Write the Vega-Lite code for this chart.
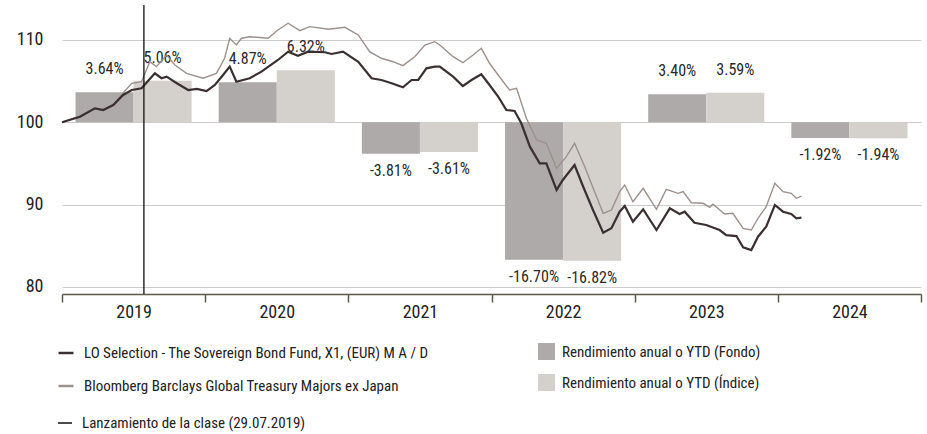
{
  "$schema": "https://vega.github.io/schema/vega-lite/v6.json",
  "width": 859,
  "height": 289,
  "autosize": "none",
  "padding": {"left": 62, "top": 5, "right": 6, "bottom": 140},
  "config": {
    "view": {"stroke": null},
    "font": "Liberation Sans Narrow, Roboto Condensed, DejaVu Sans Condensed, Arial Narrow, sans-serif",
    "axisY": {"domain": false, "ticks": false, "grid": true, "gridColor": "#cccccc", "gridWidth": 1.2, "labelPadding": 19, "labelFontSize": 18, "labelColor": "#222222", "title": null},
    "legend": {"labelFontSize": 15, "labelColor": "#222222", "title": null, "orient": "none", "labelLimit": 0}
  },
  "datasets": {
    "bars": [
      {"year": "2019", "series": "Rendimiento anual o YTD (Fondo)", "ret": 3.64, "end": 103.64, "label": "3.64%"},
      {"year": "2019", "series": "Rendimiento anual o YTD (Índice)", "ret": 5.06, "end": 105.06, "label": "5.06%"},
      {"year": "2020", "series": "Rendimiento anual o YTD (Fondo)", "ret": 4.87, "end": 104.87, "label": "4.87%"},
      {"year": "2020", "series": "Rendimiento anual o YTD (Índice)", "ret": 6.32, "end": 106.32, "label": "6.32%"},
      {"year": "2021", "series": "Rendimiento anual o YTD (Fondo)", "ret": -3.81, "end": 96.19, "label": "-3.81%"},
      {"year": "2021", "series": "Rendimiento anual o YTD (Índice)", "ret": -3.61, "end": 96.39, "label": "-3.61%"},
      {"year": "2022", "series": "Rendimiento anual o YTD (Fondo)", "ret": -16.70, "end": 83.30, "label": "-16.70%"},
      {"year": "2022", "series": "Rendimiento anual o YTD (Índice)", "ret": -16.82, "end": 83.18, "label": "-16.82%"},
      {"year": "2023", "series": "Rendimiento anual o YTD (Fondo)", "ret": 3.40, "end": 103.40, "label": "3.40%"},
      {"year": "2023", "series": "Rendimiento anual o YTD (Índice)", "ret": 3.59, "end": 103.59, "label": "3.59%"},
      {"year": "2024", "series": "Rendimiento anual o YTD (Fondo)", "ret": -1.92, "end": 98.08, "label": "-1.92%"},
      {"year": "2024", "series": "Rendimiento anual o YTD (Índice)", "ret": -1.94, "end": 98.06, "label": "-1.94%"}
    ],
    "launch": [{"date": "2019-07-29", "event": "Lanzamiento de la clase (29.07.2019)"}],
    "fund": [
      {"date": "2019-01-01", "value": 100.0}, {"date": "2019-02-16", "value": 100.68}, {"date": "2019-03-26", "value": 101.70},
      {"date": "2019-04-16", "value": 101.49}, {"date": "2019-05-12", "value": 102.10}, {"date": "2019-06-06", "value": 103.32},
      {"date": "2019-06-28", "value": 103.92}, {"date": "2019-07-23", "value": 104.13}, {"date": "2019-08-26", "value": 105.95},
      {"date": "2019-09-12", "value": 105.35}, {"date": "2019-09-25", "value": 105.54}, {"date": "2019-10-21", "value": 104.74},
      {"date": "2019-11-19", "value": 103.92}, {"date": "2019-12-11", "value": 104.05}, {"date": "2020-01-05", "value": 103.80},
      {"date": "2020-01-26", "value": 104.53}, {"date": "2020-02-16", "value": 105.75}, {"date": "2020-03-04", "value": 106.76},
      {"date": "2020-03-21", "value": 104.93}, {"date": "2020-04-24", "value": 105.35}, {"date": "2020-05-24", "value": 106.15},
      {"date": "2020-07-05", "value": 107.57}, {"date": "2020-07-31", "value": 108.58}, {"date": "2020-08-25", "value": 108.09},
      {"date": "2020-09-20", "value": 108.58}, {"date": "2020-11-02", "value": 108.51}, {"date": "2020-11-19", "value": 108.30},
      {"date": "2020-12-18", "value": 108.58}, {"date": "2021-01-26", "value": 107.36}, {"date": "2021-03-01", "value": 105.35},
      {"date": "2021-03-26", "value": 105.14}, {"date": "2021-04-21", "value": 104.74}, {"date": "2021-05-20", "value": 104.25},
      {"date": "2021-06-11", "value": 105.14}, {"date": "2021-06-28", "value": 105.14}, {"date": "2021-07-19", "value": 106.56},
      {"date": "2021-08-09", "value": 106.76}, {"date": "2021-08-22", "value": 106.76}, {"date": "2021-09-25", "value": 105.54},
      {"date": "2021-10-20", "value": 104.41}, {"date": "2021-11-11", "value": 105.14}, {"date": "2021-12-06", "value": 105.83},
      {"date": "2021-12-27", "value": 104.53}, {"date": "2022-01-18", "value": 103.11}, {"date": "2022-02-08", "value": 101.49},
      {"date": "2022-03-01", "value": 101.37}, {"date": "2022-03-18", "value": 99.88}, {"date": "2022-04-09", "value": 97.04},
      {"date": "2022-05-04", "value": 95.02}, {"date": "2022-05-21", "value": 95.02}, {"date": "2022-06-16", "value": 91.78},
      {"date": "2022-07-02", "value": 92.99}, {"date": "2022-08-01", "value": 94.81}, {"date": "2022-08-23", "value": 92.17},
      {"date": "2022-09-17", "value": 89.34}, {"date": "2022-10-13", "value": 86.59}, {"date": "2022-11-03", "value": 87.12},
      {"date": "2022-11-24", "value": 89.14}, {"date": "2022-12-07", "value": 89.83}, {"date": "2022-12-28", "value": 87.92},
      {"date": "2023-01-23", "value": 89.43}, {"date": "2023-02-26", "value": 86.91}, {"date": "2023-04-01", "value": 89.55},
      {"date": "2023-04-26", "value": 88.86}, {"date": "2023-05-09", "value": 89.14}, {"date": "2023-06-03", "value": 87.80},
      {"date": "2023-07-03", "value": 87.52}, {"date": "2023-08-06", "value": 86.91}, {"date": "2023-08-23", "value": 86.30},
      {"date": "2023-09-18", "value": 86.18}, {"date": "2023-10-05", "value": 84.81}, {"date": "2023-10-26", "value": 84.48},
      {"date": "2023-11-12", "value": 86.10}, {"date": "2023-12-03", "value": 87.31}, {"date": "2023-12-25", "value": 89.95},
      {"date": "2024-01-15", "value": 89.14}, {"date": "2024-02-05", "value": 88.86}, {"date": "2024-02-18", "value": 88.34},
      {"date": "2024-03-02", "value": 88.41}
    ],
    "index": [
      {"date": "2019-01-01", "value": 100.0}, {"date": "2019-02-16", "value": 100.77}, {"date": "2019-03-26", "value": 101.74},
      {"date": "2019-04-16", "value": 101.56}, {"date": "2019-05-12", "value": 102.16}, {"date": "2019-06-06", "value": 103.56},
      {"date": "2019-06-28", "value": 104.74}, {"date": "2019-07-23", "value": 104.93}, {"date": "2019-08-13", "value": 107.36},
      {"date": "2019-08-30", "value": 106.76}, {"date": "2019-09-25", "value": 108.18}, {"date": "2019-10-16", "value": 106.96},
      {"date": "2019-11-15", "value": 105.95}, {"date": "2019-12-27", "value": 105.35}, {"date": "2020-01-30", "value": 105.95},
      {"date": "2020-02-20", "value": 107.78}, {"date": "2020-03-04", "value": 110.21}, {"date": "2020-03-21", "value": 109.39},
      {"date": "2020-04-03", "value": 110.21}, {"date": "2020-04-24", "value": 110.40}, {"date": "2020-06-10", "value": 110.21},
      {"date": "2020-07-05", "value": 111.22}, {"date": "2020-07-31", "value": 112.03}, {"date": "2020-08-30", "value": 111.13},
      {"date": "2020-09-24", "value": 111.62}, {"date": "2020-11-11", "value": 111.30}, {"date": "2020-12-23", "value": 111.54},
      {"date": "2021-01-26", "value": 110.61}, {"date": "2021-02-24", "value": 108.58}, {"date": "2021-03-26", "value": 107.78},
      {"date": "2021-04-25", "value": 107.36}, {"date": "2021-05-20", "value": 106.88}, {"date": "2021-06-19", "value": 107.97},
      {"date": "2021-07-15", "value": 109.39}, {"date": "2021-08-09", "value": 109.79}, {"date": "2021-08-22", "value": 109.39},
      {"date": "2021-09-25", "value": 107.97}, {"date": "2021-10-20", "value": 107.24}, {"date": "2021-11-15", "value": 108.18},
      {"date": "2021-12-06", "value": 108.99}, {"date": "2021-12-27", "value": 107.17}, {"date": "2022-01-18", "value": 105.75},
      {"date": "2022-02-16", "value": 103.92}, {"date": "2022-03-06", "value": 104.13}, {"date": "2022-03-31", "value": 100.49},
      {"date": "2022-04-26", "value": 97.85}, {"date": "2022-05-21", "value": 97.45}, {"date": "2022-06-16", "value": 94.41},
      {"date": "2022-07-11", "value": 95.82}, {"date": "2022-08-01", "value": 97.45}, {"date": "2022-08-27", "value": 94.61},
      {"date": "2022-09-21", "value": 91.57}, {"date": "2022-10-13", "value": 88.94}, {"date": "2022-11-03", "value": 89.34},
      {"date": "2022-11-24", "value": 91.57}, {"date": "2022-12-07", "value": 92.38}, {"date": "2022-12-28", "value": 90.35},
      {"date": "2023-01-23", "value": 91.98}, {"date": "2023-02-26", "value": 89.43}, {"date": "2023-03-23", "value": 91.86},
      {"date": "2023-04-22", "value": 91.37}, {"date": "2023-05-05", "value": 91.57}, {"date": "2023-05-26", "value": 90.23},
      {"date": "2023-06-25", "value": 90.16}, {"date": "2023-07-12", "value": 89.67}, {"date": "2023-07-20", "value": 90.04},
      {"date": "2023-08-19", "value": 88.86}, {"date": "2023-09-09", "value": 88.94}, {"date": "2023-10-05", "value": 87.12},
      {"date": "2023-10-26", "value": 86.91}, {"date": "2023-11-12", "value": 88.34}, {"date": "2023-12-03", "value": 89.74},
      {"date": "2023-12-25", "value": 92.59}, {"date": "2024-01-15", "value": 91.57}, {"date": "2024-02-05", "value": 91.37},
      {"date": "2024-02-18", "value": 90.77}, {"date": "2024-03-02", "value": 91.04}
    ]
  },
  "resolve": {"scale": {"x": "independent"}, "axis": {"x": "independent"}},
  "layer": [
    {
      "encoding": {
        "x": {"field": "year", "type": "ordinal", "scale": {"paddingInner": 0, "paddingOuter": 0},
              "axis": {"title": null, "tickBand": "extent", "grid": false, "domainColor": "#5b5a48", "domainWidth": 1.5, "tickColor": "#5b5a48", "tickWidth": 1.5, "tickSize": 8, "labelAngle": 0, "labelFontSize": 18, "labelColor": "#222222", "labelPadding": 1}},
        "xOffset": {"field": "series", "type": "nominal", "scale": {"domain": ["Rendimiento anual o YTD (Fondo)", "Rendimiento anual o YTD (Índice)"], "paddingInner": 0, "paddingOuter": 0.233}}
      },
      "layer": [
        {
          "data": {"name": "bars"},
          "mark": {"type": "bar"},
          "encoding": {
            "y": {"field": "end", "type": "quantitative", "scale": {"domain": [79.14, 114.25], "nice": false, "zero": false}, "axis": {"values": [80, 90, 100, 110]}},
            "y2": {"datum": 100},
            "fill": {"field": "series", "type": "nominal", "scale": {"domain": ["Rendimiento anual o YTD (Fondo)", "Rendimiento anual o YTD (Índice)"], "range": ["#aeaaa9", "#d4d0cc"]},
                     "legend": {"orient": "none", "legendX": 476, "legendY": 338, "symbolType": "square", "symbolSize": 289, "symbolStrokeWidth": 0, "labelOffset": 7, "rowPadding": 14}}
          }
        },
        {
          "data": {"name": "bars"},
          "transform": [{"filter": "datum.ret > 0"}],
          "mark": {"type": "text", "fontSize": 16, "color": "#2a2a2a", "baseline": "middle", "dy": -23},
          "encoding": {
            "y": {"field": "end", "type": "quantitative", "scale": {"domain": [79.14, 114.25], "nice": false, "zero": false}},
            "text": {"field": "label"}
          }
        },
        {
          "data": {"name": "bars"},
          "transform": [{"filter": "datum.ret < 0"}],
          "mark": {"type": "text", "fontSize": 16, "color": "#2a2a2a", "baseline": "middle", "dy": 17},
          "encoding": {
            "y": {"field": "end", "type": "quantitative", "scale": {"domain": [79.14, 114.25], "nice": false, "zero": false}},
            "text": {"field": "label"}
          }
        }
      ]
    },
    {
      "layer": [
        {
          "data": {"name": "index"},
          "mark": {"type": "line", "strokeWidth": 1.4},
          "encoding": {
            "x": {"field": "date", "type": "temporal", "scale": {"type": "utc", "domain": [{"year": 2019, "month": 1, "date": 1, "utc": true}, {"year": 2025, "month": 1, "date": 1, "utc": true}]}, "axis": null},
            "y": {"field": "value", "type": "quantitative", "scale": {"domain": [79.14, 114.25], "nice": false, "zero": false}},
            "stroke": {"datum": "Bloomberg Barclays Global Treasury Majors ex Japan", "type": "nominal",
                       "scale": {"domain": ["LO Selection - The Sovereign Bond Fund, X1, (EUR) M A / D", "Bloomberg Barclays Global Treasury Majors ex Japan"], "range": ["#3b3031", "#9c918c"]},
                       "legend": {"orient": "none", "legendX": -5, "legendY": 339, "symbolType": "stroke", "symbolSize": 225, "symbolStrokeWidth": 2.5, "labelOffset": 9, "rowPadding": 16}}
          }
        },
        {
          "data": {"name": "fund"},
          "mark": {"type": "line", "strokeWidth": 2.2},
          "encoding": {
            "x": {"field": "date", "type": "temporal"},
            "y": {"field": "value", "type": "quantitative", "scale": {"domain": [79.14, 114.25], "nice": false, "zero": false}},
            "stroke": {"datum": "LO Selection - The Sovereign Bond Fund, X1, (EUR) M A / D", "type": "nominal"}
          }
        },
        {
          "data": {"name": "launch"},
          "mark": {"type": "rule", "color": "#111111", "strokeWidth": 1.3},
          "encoding": {
            "x": {"field": "date", "type": "temporal"},
            "strokeDash": {"field": "event", "type": "nominal", "scale": {"range": [[1, 0]]},
                           "legend": {"orient": "none", "legendX": -5, "legendY": 410, "symbolType": "stroke", "symbolSize": 196, "symbolStrokeWidth": 1.5, "symbolStrokeColor": "#111111", "labelOffset": 9}}
          }
        }
      ]
    }
  ]
}
